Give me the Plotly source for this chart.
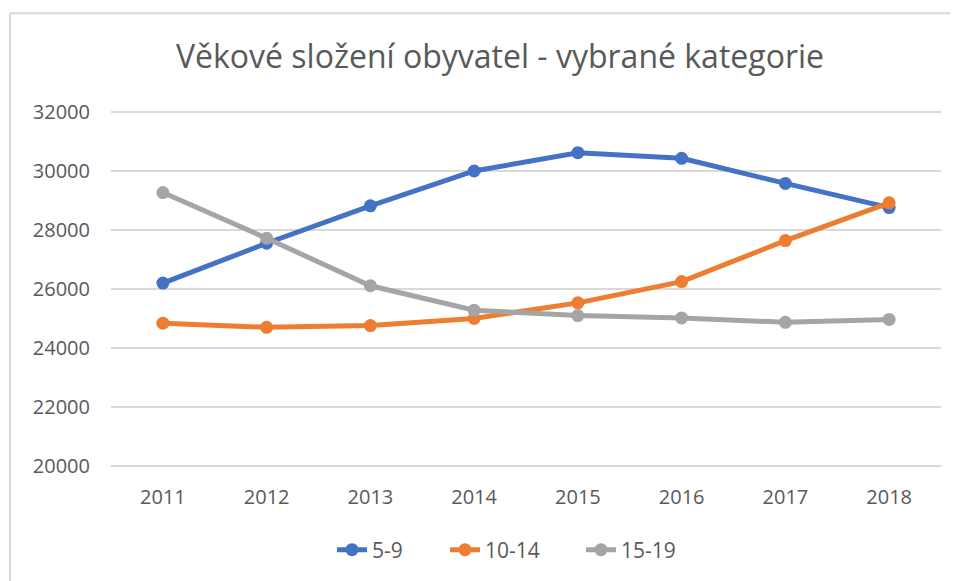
import plotly.graph_objects as go

years = ["2011", "2012", "2013", "2014", "2015", "2016", "2017", "2018"]
s_5_9 = [26200, 27550, 28820, 30000, 30620, 30430, 29580, 28760]
s_10_14 = [24840, 24700, 24760, 25000, 25530, 26250, 27640, 28920]
s_15_19 = [29270, 27720, 26110, 25280, 25100, 25020, 24870, 24970]
series_names = ["5-9", "10-14", "15-19"]
colors = ["#4472C4", "#ED7D31", "#A5A5A5"]
y_ticks = [20000, 22000, 24000, 26000, 28000, 30000, 32000]
y_labels = ["20000", "22000", "24000", "26000", "28000", "30000", "32000"]

# page body has an 8px margin; work in page pixels and convert
OFF = 8
W, H = 958 - OFF, 581 - OFF
E = 2  # extra pixels of range so the edge gridlines are drawn
U = 12000 / 355  # data units per pixel
ML = 111 - OFF
MR = 17
MT = 112 - OFF - E
MB = H - (467 - OFF) - E
PW, PH = W - ML - MR, H - MT - MB

def px_x(p):
    return (p - OFF - ML) / PW

def px_y(p):
    return (H - MB - (p - OFF)) / PH

legend_ids = ["legend", "legend2", "legend3"]
legend_text_x = [372, 485, 621]

fig = go.Figure()
for name, vals, col, lid in zip(series_names, [s_5_9, s_10_14, s_15_19], colors, legend_ids):
    fig.add_trace(go.Scatter(
        x=years, y=vals, name=name, mode="lines+markers",
        line=dict(color=col, width=5),
        marker=dict(color=col, size=13),
        legend=lid,
    ))

legend_common = dict(orientation="h", xanchor="left", y=px_y(550), yanchor="middle",
                     font=dict(size=21), bgcolor="rgba(0,0,0,0)")
legends = {}
for lid, tx in zip(legend_ids, legend_text_x):
    legends[lid] = dict(legend_common, x=px_x(tx - 40))

fig.update_layout(
    width=W, height=H,
    margin=dict(l=ML, r=MR, t=MT, b=MB, pad=0),
    paper_bgcolor="white", plot_bgcolor="white",
    font=dict(family="Open Sans", color="#595959", size=20),
    title=dict(text="Věkové složení obyvatel - vybrané kategorie",
               x=(500 - OFF) / W, xanchor="center", y=1 - (57 - OFF) / H, yanchor="middle",
               font=dict(size=32, color="#595959", family="Open Sans")),
    xaxis=dict(type="category", showgrid=False, showline=False, ticks="",
               tickfont=dict(size=20), range=[-0.5, 7.5], ticklabelstandoff=15),
    yaxis=dict(range=[20000 - E * U, 32000 + E * U], tickvals=y_ticks, ticktext=y_labels,
               showgrid=True, gridcolor="#D9D9D9", gridwidth=1.5, zeroline=False,
               showline=False, tickfont=dict(size=20), ticklabelstandoff=20),
    showlegend=True,
    shapes=[
        dict(type="line", xref="paper", yref="paper", x0=px_x(10), x1=px_x(958 + 5),
             y0=px_y(13), y1=px_y(13), line=dict(color="#D9D9D9", width=2), layer="below"),
        dict(type="line", xref="paper", yref="paper", x0=px_x(10), x1=px_x(10),
             y0=px_y(13), y1=px_y(581 + 5), line=dict(color="#D9D9D9", width=2), layer="below"),
    ],
    **legends,
)

fig.write_html("out.html")
